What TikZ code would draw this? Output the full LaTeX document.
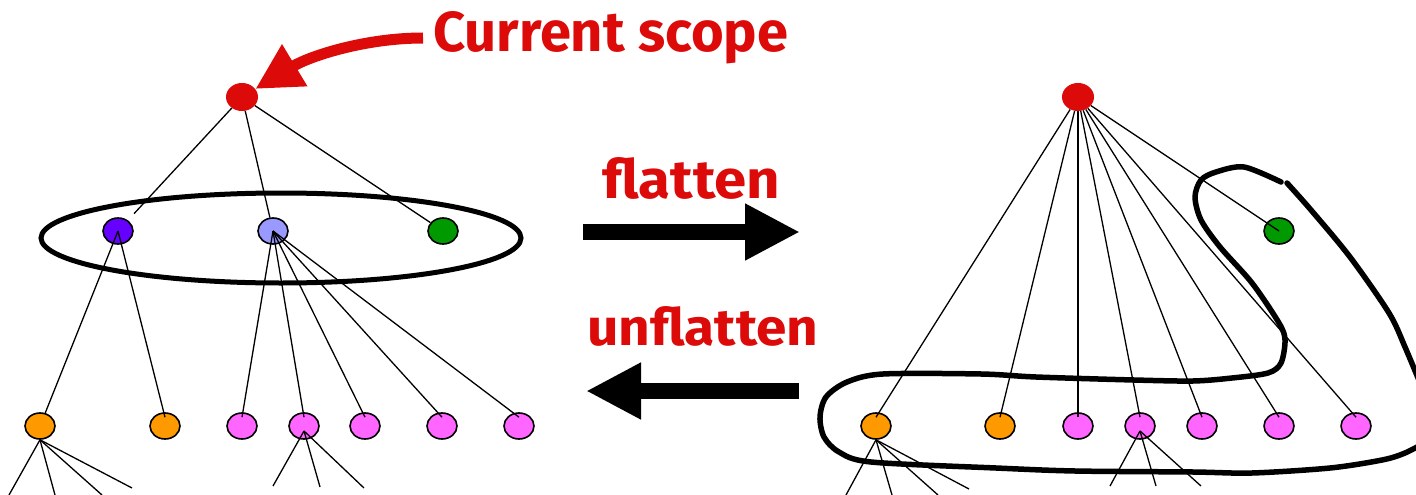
\documentclass[tikz,border=0pt]{standalone}
\usepackage{fontspec}
\setmainfont{Fira Sans}
\usetikzlibrary{shapes.geometric,arrows.meta}
\definecolor{myred}{HTML}{DD0A0A}
\definecolor{cpurple}{HTML}{6600FF}
\definecolor{cblue}{HTML}{9999FF}
\definecolor{cgreen}{HTML}{009900}
\definecolor{corange}{HTML}{FF9900}
\definecolor{cpink}{HTML}{FF66FF}
\tikzset{
  vnode/.style={ellipse, draw=black, line width=1.6pt, minimum width=30pt, minimum height=26pt, inner sep=0pt},
  rootnode/.style={ellipse, fill=myred, minimum width=32pt, minimum height=28pt, inner sep=0pt},
  edge/.style={line width=1.3pt, black},
  loopline/.style={line width=5.5pt, black, line cap=round, line join=round},
  bigarrow/.style={line width=16pt, -{Triangle[length=55pt,width=53pt]}},
  lbl/.style={inner sep=0pt, text=myred, font=\bfseries},
}
\begin{document}
\begin{tikzpicture}[x=1pt,y=-1pt]
\useasboundingbox (0,0) rectangle (1416,495);
\clip (0,0) rectangle (1416,495);
\fill[white] (0,0) rectangle (1416,495);

% ---------------- left tree ----------------
\node[rootnode] (lr) at (242,97) {};
\node[vnode, fill=cpurple] (lpu) at (118,231) {};
\node[vnode, fill=cblue] (lbl) at (273,231) {};
\node[vnode, fill=cgreen] (lgr) at (443,231) {};
\node[ellipse, draw, line width=5pt, minimum width=480pt, minimum height=90pt, inner sep=0pt] (grp) at (281,238) {};

\node[vnode, fill=corange] (lo1) at (40,426) {};
\node[vnode, fill=corange] (lo2) at (165,426) {};
\node[vnode, fill=cpink] (lp1) at (242,426) {};
\node[vnode, fill=cpink] (lp2) at (304,426) {};
\node[vnode, fill=cpink] (lp3) at (365,426) {};
\node[vnode, fill=cpink] (lp4) at (442,426) {};
\node[vnode, fill=cpink] (lp5) at (519,426) {};

\draw[edge, shorten >=9pt] (lr) -- (lpu);
\draw[edge] (lr) -- (lbl);
\draw[edge] (lr) -- (lgr);
\draw[edge] (lpu.center) -- (lo1);
\draw[edge] (lpu.center) -- ([yshift=-5pt]lo2.north);
\foreach \n in {lp1,lp2,lp3,lp4,lp5}
  \draw[edge] (lbl.center) -- ([yshift=-5pt]\n.north);

\foreach \x/\y [count=\i] in {9/495,55/495,102/495,132/488}{
  \coordinate (la\i) at (\x,\y);
  \draw[edge] (lo1.south) -- (la\i);
}
\foreach \x/\y [count=\i] in {273/486,320/487,364/488}{
  \coordinate (lb\i) at (\x,\y);
  \draw[edge] ([yshift=-5pt]lp2.center) -- (lb\i);
}

% ---------------- labels and arrows ----------------
\node[lbl, anchor=base west] (cs) at (433,52) {\resizebox{355pt}{40pt}{Current scope}};
\coordinate (csa) at (423,38);
\draw[myred, line width=11pt, -{Triangle[length=46pt,width=46pt]}]
  (csa) .. controls (365,38) and (310,56) .. (lr);

\node[lbl, anchor=base west] (fl) at (602,198) {\resizebox{178pt}{41pt}{flatten}};
\node[lbl, anchor=base west] (ufl) at (587,345) {\resizebox{231pt}{39pt}{unflatten}};
\coordinate (fa1) at (583,232);
\coordinate (fa2) at (800,232);
\draw[bigarrow] (fa1) -- (fa2);
\coordinate (ua1) at (799,391);
\coordinate (ua2) at (586,391);
\draw[bigarrow] (ua1) -- (ua2);

% ---------------- right tree ----------------
\node[rootnode] (rr) at (1078,97) {};
\node[vnode, fill=cgreen] (rgr) at (1279,231) {};
\node[vnode, fill=corange] (ro1) at (876,426) {};
\node[vnode, fill=corange] (ro2) at (1000,426) {};
\node[vnode, fill=cpink] (rp1) at (1078,426) {};
\node[vnode, fill=cpink] (rp2) at (1140,426) {};
\node[vnode, fill=cpink] (rp3) at (1202,426) {};
\node[vnode, fill=cpink] (rp4) at (1279,426) {};
\node[vnode, fill=cpink] (rp5) at (1356,426) {};

\draw[edge] (rr) -- (rgr.center);
\foreach \n in {ro1,ro2,rp1,rp2,rp3,rp4,rp5}
  \draw[edge] (rr) -- ([yshift=-5pt]\n.north);

\foreach \x/\y [count=\i] in {846/495,892/495,938/495,969/489}{
  \coordinate (ra\i) at (\x,\y);
  \draw[edge] (ro1.south) -- (ra\i);
}
\foreach \x/\y [count=\i] in {1110/486,1156/486,1201/486}{
  \coordinate (rb\i) at (\x,\y);
  \draw[edge] ([yshift=-5pt]rp2.center) -- (rb\i);
}

% hand-drawn loop
\draw[loopline] plot[smooth, tension=0.5] coordinates {
  (1281,182) (1244,167) (1216,172) (1201,180) (1195,197) (1201,220)
  (1220,247) (1252,283) (1279,323) (1285,340) (1281,363) (1268,373)
  (1232,378) (1193,381) (1134,380) (1036,377) (981,374) (883,374)
  (847,382) (826,397) (820,417) (824,437) (839,452) (871,462)
  (996,468) (1075,471) (1193,472) (1252,473) (1330,468) (1382,460)
  (1405,453) (1430,440)};
\draw[loopline] plot[smooth, tension=0.5] coordinates {
  (1287,183) (1311,210) (1350,257) (1389,313) (1405,347) (1425,395)};
\end{tikzpicture}
\end{document}
